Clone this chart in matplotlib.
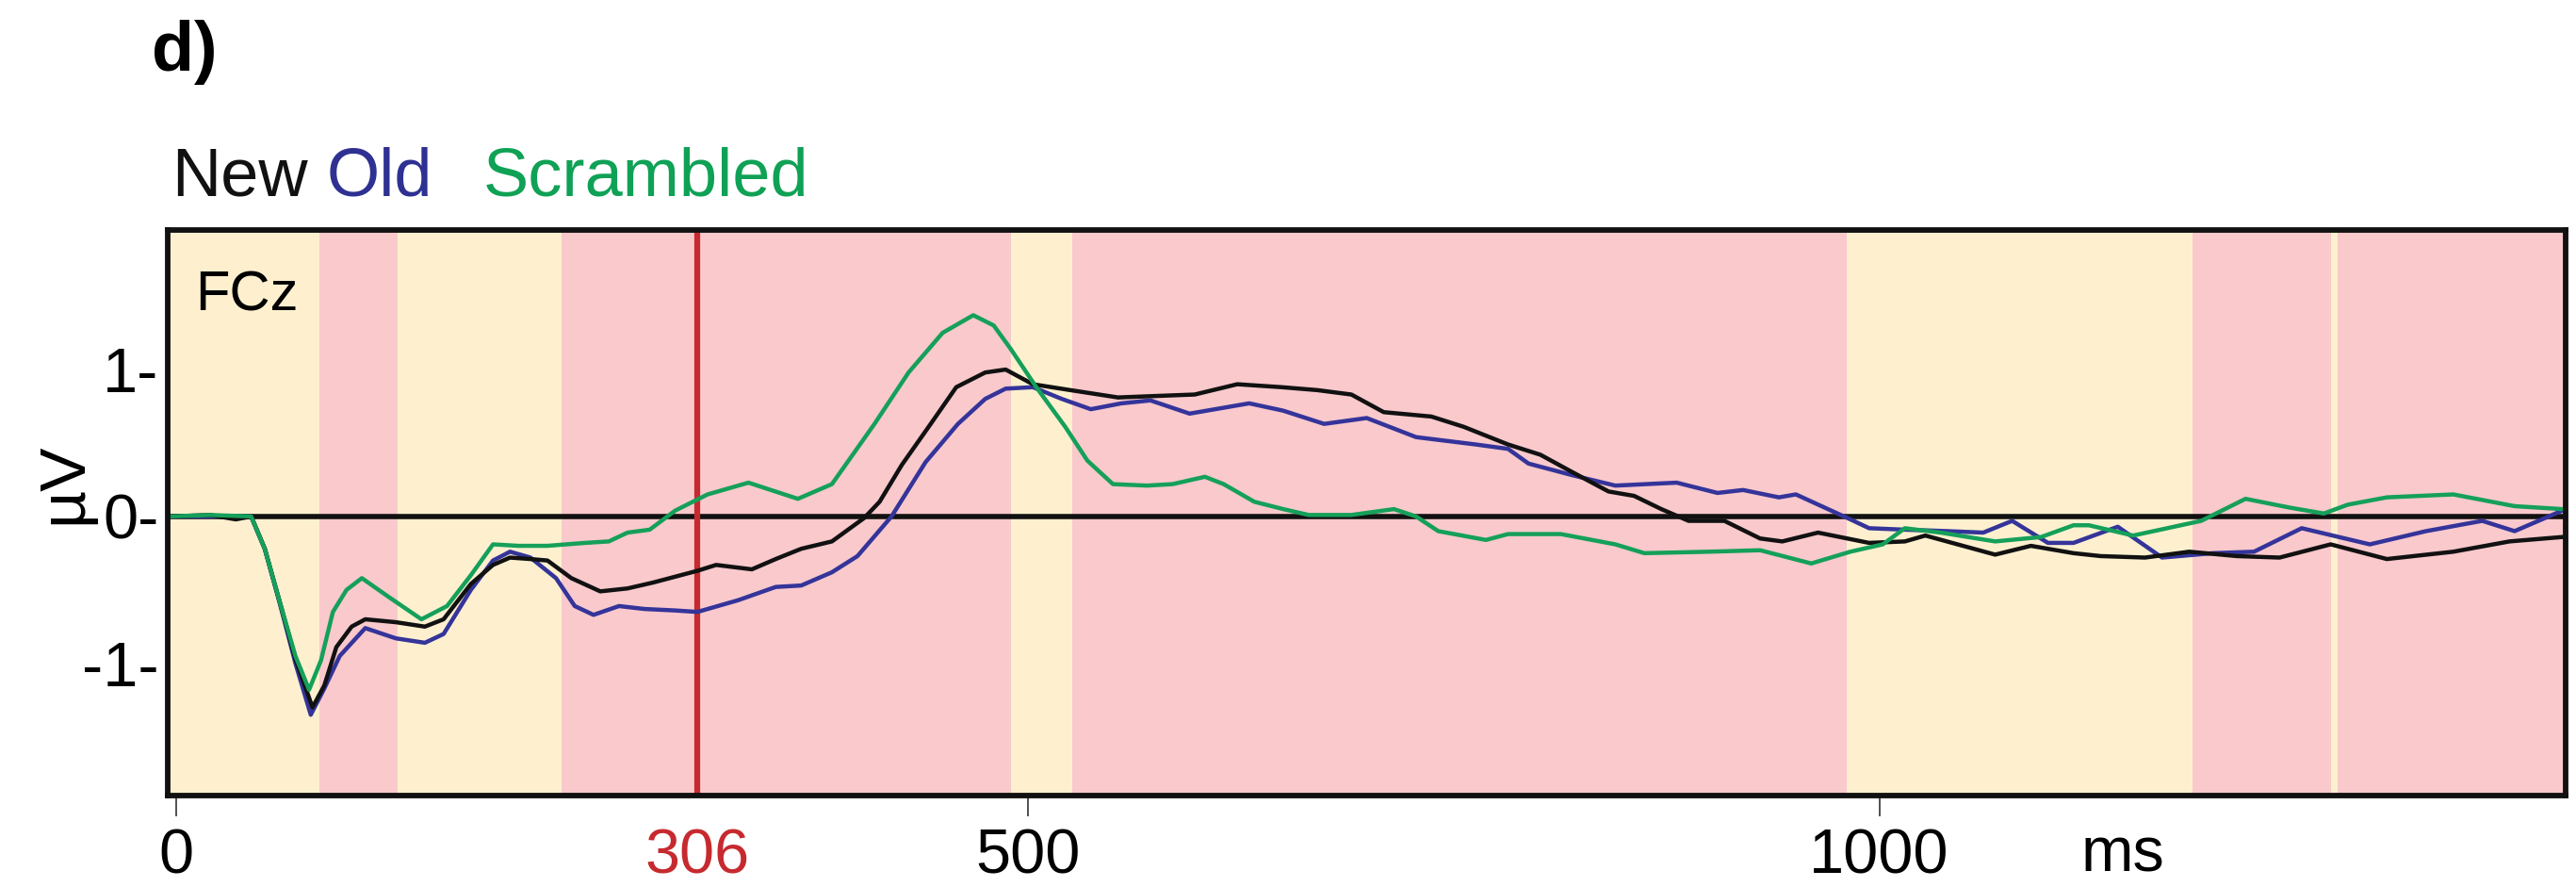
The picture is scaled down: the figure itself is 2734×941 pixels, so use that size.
"""ERP waveform at FCz for New / Old / Scrambled faces, with shaded time windows."""
import matplotlib
matplotlib.use('Agg')
import matplotlib.pyplot as plt
import matplotlib.transforms as mtransforms

plt.rcParams['font.family'] = ['Liberation Sans', 'DejaVu Sans']

# --- data (ms, microvolts) ---
t_new = [-4, 20, 35, 44, 52, 61, 70, 80, 87, 94, 103, 111, 129, 146, 157, 173, 186,
         196, 208, 218, 232, 249, 265, 280, 293, 306, 317, 338, 352, 367, 385, 404,
         413, 426, 443, 458, 475, 487, 503, 525, 553, 575, 598, 623, 649, 670, 690,
         709, 737, 756, 782, 801, 820, 841, 856, 872, 888, 909, 930, 943, 964, 994,
         1015, 1027, 1068, 1089, 1114, 1130, 1156, 1182, 1210, 1235, 1265, 1298,
         1337, 1370, 1401]
v_new = [0.0, 0.01, -0.02, 0.0, -0.22, -0.59, -0.97, -1.30, -1.15, -0.89, -0.75,
         -0.70, -0.72, -0.75, -0.70, -0.46, -0.33, -0.28, -0.29, -0.30, -0.42, -0.51,
         -0.49, -0.45, -0.41, -0.37, -0.33, -0.36, -0.29, -0.22, -0.17, -0.01, 0.10,
         0.35, 0.63, 0.88, 0.98, 1.00, 0.90, 0.86, 0.81, 0.82, 0.83, 0.90, 0.88, 0.86,
         0.83, 0.71, 0.68, 0.61, 0.49, 0.42, 0.30, 0.17, 0.14, 0.05, -0.03, -0.03,
         -0.15, -0.17, -0.11, -0.18, -0.17, -0.13, -0.26, -0.20, -0.25, -0.27, -0.28,
         -0.24, -0.27, -0.28, -0.19, -0.29, -0.24, -0.17, -0.14]

t_old = [-4, 20, 44, 52, 61, 70, 79, 87, 96, 111, 129, 146, 157, 173, 186, 196, 208,
         223, 234, 245, 260, 275, 293, 306, 330, 352, 367, 385, 400, 420, 440, 459,
         475, 487, 503, 520, 537, 555, 572, 595, 630, 650, 674, 699, 728, 763, 782,
         794, 820, 845, 881, 905, 920, 941, 951, 983, 994, 1015, 1040, 1061, 1078,
         1099, 1114, 1140, 1166, 1196, 1220, 1248, 1288, 1321, 1354, 1373, 1401]
v_old = [0.0, 0.0, 0.0, -0.22, -0.60, -1.00, -1.35, -1.17, -0.95, -0.76, -0.83,
         -0.86, -0.80, -0.50, -0.30, -0.24, -0.28, -0.42, -0.61, -0.67, -0.61, -0.63,
         -0.64, -0.65, -0.57, -0.48, -0.47, -0.38, -0.27, 0.0, 0.37, 0.63, 0.80, 0.87,
         0.88, 0.80, 0.73, 0.77, 0.79, 0.70, 0.77, 0.72, 0.63, 0.67, 0.54, 0.49, 0.46,
         0.36, 0.28, 0.21, 0.23, 0.16, 0.18, 0.13, 0.15, -0.02, -0.08, -0.09, -0.10,
         -0.11, -0.03, -0.18, -0.18, -0.07, -0.28, -0.25, -0.24, -0.08, -0.19, -0.10,
         -0.03, -0.10, 0.04]

t_scr = [-4, 20, 44, 52, 61, 70, 78, 85, 92, 100, 109, 125, 144, 159, 173, 186, 201,
         218, 240, 254, 265, 278, 293, 312, 336, 365, 385, 410, 430, 450, 468, 480,
         490, 505, 522, 535, 550, 570, 585, 604, 615, 633, 650, 665, 690, 715, 728,
         741, 769, 782, 813, 845, 862, 900, 930, 960, 983, 1002, 1015, 1036, 1068,
         1095, 1114, 1123, 1149, 1189, 1215, 1241, 1261, 1275, 1298, 1337, 1373, 1401]
v_scr = [0.0, 0.01, 0.0, -0.22, -0.59, -0.95, -1.18, -0.98, -0.65, -0.50, -0.42,
         -0.55, -0.70, -0.61, -0.40, -0.19, -0.20, -0.20, -0.18, -0.17, -0.11, -0.09,
         0.04, 0.15, 0.23, 0.12, 0.22, 0.63, 0.98, 1.25, 1.37, 1.30, 1.14, 0.88, 0.61,
         0.38, 0.22, 0.21, 0.22, 0.27, 0.22, 0.10, 0.05, 0.01, 0.01, 0.05, 0.0, -0.10,
         -0.16, -0.12, -0.12, -0.19, -0.25, -0.24, -0.23, -0.32, -0.24, -0.19, -0.08,
         -0.11, -0.17, -0.14, -0.06, -0.06, -0.13, -0.03, 0.12, 0.06, 0.02, 0.08, 0.13,
         0.15, 0.07, 0.05]

# shaded windows: edges in ms, alternating colour starting with yellow
window_edges = [-5, 84, 130, 226, 490, 526, 981, 1184, 1265, 1269, 1403]
marker_ms = 306
x_ticks = [0, 500, 1000]
y_ticks = [-1, 0, 1]
y_ticklabels = ['-1-', '0-', '1-']

YELLOW = '#FEF0CF'
PINK = '#F9C9CC'
C_NEW = '#111111'
C_OLD = '#34349A'
C_SCR = '#15A05A'
C_RED = '#C62A2F'


def main():
    fig = plt.figure(figsize=(27.34, 9.41), dpi=100)
    ax = fig.add_axes([0.0651, 0.1031, 0.9309, 0.6376])

    for i in range(len(window_edges) - 1):
        col = YELLOW if i % 2 == 0 else PINK
        ax.axvspan(window_edges[i], window_edges[i + 1], color=col, lw=0, zorder=0)

    ax.axhline(0, color='#111111', lw=4, zorder=2)
    ax.axvline(marker_ms, color=C_RED, lw=4.5, zorder=2)

    ax.plot(t_old, v_old, color=C_OLD, lw=3.2, zorder=3)
    ax.plot(t_new, v_new, color=C_NEW, lw=3.2, zorder=4)
    ax.plot(t_scr, v_scr, color=C_SCR, lw=3.2, zorder=5)

    ax.set_xlim(-5, 1403)
    ax.set_ylim(-1.90, 1.95)

    for s in ax.spines.values():
        s.set_linewidth(4.2)
        s.set_color('#111111')
        s.set_zorder(6)

    ax.set_yticks(y_ticks)
    ax.set_yticklabels(y_ticklabels)
    ax.tick_params(axis='y', length=0, pad=7, labelsize=48)

    ax.set_xticks(x_ticks)
    ax.set_xticklabels([str(v) for v in x_ticks])
    ax.tick_params(axis='x', which='major', direction='out', length=16, width=1.2,
                   color='#333333', pad=9, labelsize=48)
    ax.set_xticks([marker_ms], minor=True)
    ax.set_xticklabels([str(marker_ms)], minor=True)
    ax.tick_params(axis='x', which='minor', length=0, pad=25, labelsize=48,
                   labelcolor=C_RED)

    # "ms" sits on the tick-label line, just after 1000
    trans = mtransforms.blended_transform_factory(ax.transData, ax.transAxes)
    ax.text(1143, -0.135, 'ms', transform=trans, ha='center', va='baseline',
            fontsize=48)

    ax.text(-0.043, 0.552, 'µV', transform=ax.transAxes, rotation=90,
            ha='center', va='center', fontsize=50)
    ax.text(0.0114, 0.857, 'FCz', transform=ax.transAxes, ha='left',
            va='baseline', fontsize=43, zorder=7)

    # panel letter and colour-coded legend
    fig.text(0.0589, 0.920, 'd)', fontsize=53, fontweight='bold', va='baseline')
    fig.text(0.0666, 0.779, 'New', fontsize=52, color=C_NEW, va='baseline')
    fig.text(0.1269, 0.779, 'Old', fontsize=52, color='#2E3192', va='baseline')
    fig.text(0.1876, 0.779, 'Scrambled', fontsize=52, color='#0FA155', va='baseline')

    fig.savefig('out.png', dpi=100)


if __name__ == '__main__':
    main()
